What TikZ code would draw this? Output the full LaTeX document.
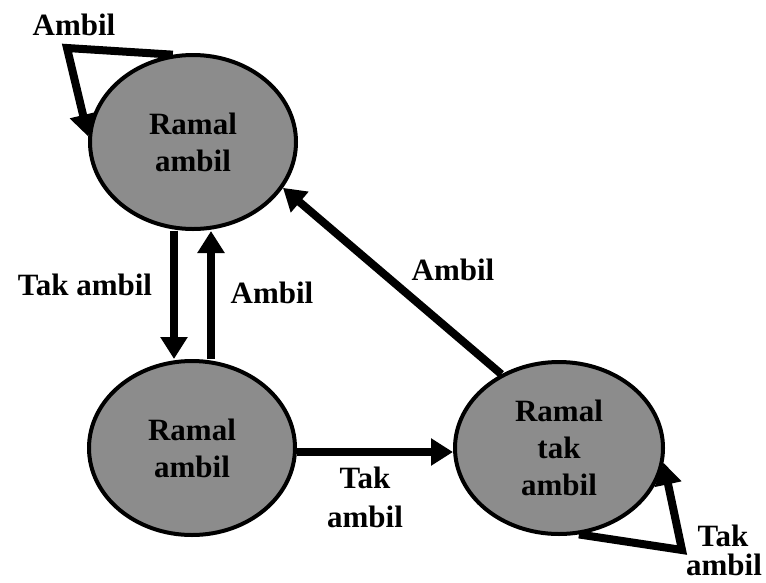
\documentclass[tikz,border=0pt]{standalone}
\usepackage{fontspec}
\setmainfont{Liberation Serif}
\usetikzlibrary{shapes.geometric,arrows.meta,calc,backgrounds}
\begin{document}
\begin{tikzpicture}[x=1pt,y=-1pt,
  state/.style={ellipse, draw=black, line width=4pt, fill=black!45,
    minimum width=206pt, minimum height=174pt, inner sep=0pt, align=center,
    font=\fontsize{31}{37}\selectfont\bfseries},
  lbl/.style={anchor=base, inner sep=0pt, font=\fontsize{31}{37}\selectfont\bfseries},
  arr/.style={line width=8pt, -{Triangle[length=22pt,width=26pt]}, line join=miter}]
\useasboundingbox (0,0) rectangle (766,582);
\node[state] (ra) at (193,142) {Ramal\\ambil};
\node[state] (rb) at (192,448) {Ramal\\ambil};
\node[state, minimum width=208pt, minimum height=172pt] (rt) at (559,448) {Ramal\\tak\\ambil};
\coordinate (c1) at (67,48);
\coordinate (c2) at (682,550);
\begin{scope}[on background layer]
\draw[arr] (ra.103) -- (c1) -- (ra.177);
\draw[arr] ($(ra.south)+(-19,0)$) -- ($(rb.north)+(-18,0)$);
\draw[arr] ($(rb.north)+(19,0)$) -- ($(ra.south)+(18,0)$);
\draw[arr] ($(rb.east)+(0,4)$) -- ($(rt.west)+(0,4)$);
\draw[arr] (rt.128) -- (ra.-27.6);
\draw[arr] (rt.-77) -- (c2) -- (rt.-8);
\end{scope}
\node[lbl] (l1) at (74,35) {Ambil};
\node[lbl] (l2) at (85,295) {Tak ambil};
\node[lbl] (l3) at (272,303) {Ambil};
\node[lbl] (l4) at (453,280) {Ambil};
\node[lbl] (l5) at (365,488) {Tak};
\node[lbl] (l6) at (365,527) {ambil};
\node[lbl] (l7) at (723,546) {Tak};
\node[lbl] (l8) at (724,575) {ambil};
\end{tikzpicture}
\end{document}
